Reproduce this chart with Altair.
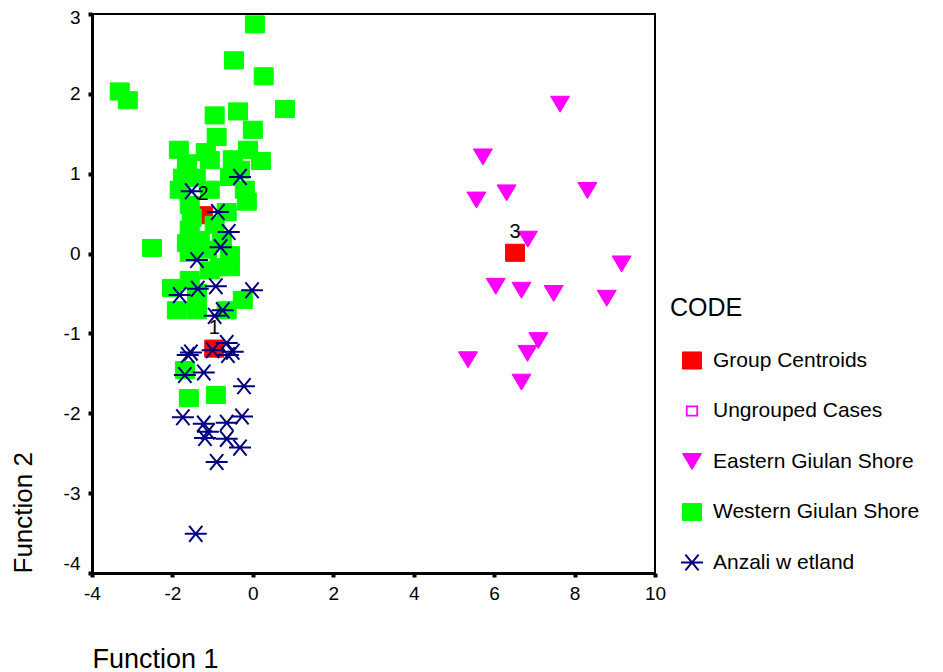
import altair as alt
import pandas as pd

groups = ["Group Centroids", "Ungrouped Cases", "Eastern Giulan Shore",
          "Western Giulan Shore", "Anzali w etland"]

centroid_x = [-0.96, -1.24, 6.52]
centroid_y = [-1.19, 0.48, 0.01]
centroid_labels = ["1", "2", "3"]

eastern_x = [7.64, 5.72, 6.31, 5.56, 8.32, 6.84, 9.17, 6.04, 6.68, 7.48, 8.80, 7.10, 6.83, 5.35, 6.68]
eastern_y = [1.87, 1.21, 0.76, 0.67, 0.79, 0.18, -0.13, -0.41, -0.46, -0.50, -0.56, -1.09, -1.25, -1.33, -1.61]

western_x = [0.05, -0.47, 0.27, -3.31, -3.11, 0.80, -0.37, -0.95, 0.00, -0.90,
             -1.84, -1.17, -0.12, 0.20, -1.07, -0.50, -1.64, -1.74, -1.82, -0.57,
             -0.20, -0.15, -1.57, -0.65, -1.52, -1.57, -2.51, -1.64, -1.32, -0.77,
             -1.57, -1.14, -1.07, -0.57, -0.82, -2.01, -1.39, -0.25, -1.89, -1.39,
             -0.65, -1.69, -1.59, -0.92, -1.42, -1.07, -0.95, -0.32, -0.57, -1.57]
western_y = [2.87, 2.42, 2.22, 2.03, 1.92, 1.81, 1.78, 1.73, 1.55, 1.46,
             1.30, 1.27, 1.30, 1.16, 1.17, 1.18, 1.13, 0.95, 0.80, 0.96,
             0.80, 0.65, 0.61, 0.52, 0.45, 0.30, 0.07, 0.13, 0.17, 0.17,
             0.01, 0.05, -0.21, -0.17, -0.17, -0.43, -0.49, -0.58, -0.71, -0.71,
             -0.71, -1.46, -1.81, -1.77, 0.95, 0.80, 0.36, 1.05, -0.02, -0.33]

anzali_x = [-1.52, -0.32, -0.87, -0.60, -0.80, -1.39, -0.92, -1.37, -1.82, -0.02,
            -0.75, -0.95, -0.65, -1.54, -1.62, -1.00, -0.62, -0.50, -1.69, -1.22,
            -0.22, -1.74, -1.22, -1.12, -1.19, -0.65, -0.27, -0.65, -0.32, -0.90, -1.42]
anzali_y = [0.78, 0.96, 0.52, 0.27, 0.08, -0.08, -0.41, -0.44, -0.52, -0.46,
            -0.71, -0.78, -1.12, -1.24, -1.27, -1.21, -1.27, -1.23, -1.52, -1.49,
            -1.66, -2.05, -2.13, -2.23, -2.31, -2.12, -2.04, -2.32, -2.43, -2.61, -3.51]

x_ticks = [-4, -2, 0, 2, 4, 6, 8, 10]
y_ticks = [-4, -3, -2, -1, 0, 1, 2, 3]

FONT = "Liberation Sans"

rows = []
for xv, yv in zip(centroid_x, centroid_y):
    rows.append({"f1": xv, "f2": yv, "CODE": groups[0]})
for xv, yv in zip(eastern_x, eastern_y):
    rows.append({"f1": xv, "f2": yv, "CODE": groups[2]})
for xv, yv in zip(western_x, western_y):
    rows.append({"f1": xv, "f2": yv, "CODE": groups[3]})
for xv, yv in zip(anzali_x, anzali_y):
    rows.append({"f1": xv, "f2": yv, "CODE": groups[4]})
points_df = pd.DataFrame(rows)
points_df["ord"] = range(len(points_df))

labels_df = pd.DataFrame({"f1": centroid_x, "f2": centroid_y, "lab": centroid_labels})

square = "M-1,-0.9h2v1.8h-2Z"
tri_down = "M-1,-0.84L1,-0.84L0,0.84Z"
asterisk = "M-1,0H1M-0.6,-0.72L0.6,0.72M-0.6,0.72L0.6,-0.72"

x_enc = alt.X("f1:Q", scale=alt.Scale(domain=[-4, 10], nice=False, zero=False),
              axis=alt.Axis(values=x_ticks, title="Function 1", grid=False,
                            labelExpr="datum.value + ''", labelFlush=False,
                            titleX=0, titleY=94, titleAlign="left", titleFontSize=27,
                            titleBaseline="alphabetic", titleAnchor="start"))
y_enc = alt.Y("f2:Q", scale=alt.Scale(domain=[-4, 3], nice=False, zero=False),
              axis=alt.Axis(values=y_ticks, title="Function 2", grid=False,
                            labelExpr="datum.value + ''", labelFlush=False,
                            titleX=-61, titleY=559, titleAlign="left",
                            titleAngle=270, titleBaseline="alphabetic",
                            labelOffset={"condition": {"test": "datum.value == 3", "value": 3},
                                         "value": 0},
                            labelBaseline={"condition": {"test": "datum.value == -4", "value": "bottom"},
                                           "value": "middle"}))

legend = alt.Legend(title="CODE", orient="none", legendX=578, legendY=282,
                    titleFontSize=25, titleFontWeight="normal", titleFont=FONT,
                    titleColor="black", labelFont=FONT, labelFontSize=21,
                    labelColor="black", symbolOffset=10, labelOffset=9,
                    labelLimit=400, clipHeight=25, rowPadding=25.5, titlePadding=27)

dom = groups
points = alt.Chart(points_df).mark_point(opacity=1, filled=False).encode(
    x=x_enc,
    y=y_enc,
    shape=alt.Shape("CODE:N", scale=alt.Scale(domain=dom, range=[square, square, tri_down, square, asterisk]), legend=legend),
    fill=alt.Fill("CODE:N", scale=alt.Scale(domain=dom, range=["#ff0000", "transparent", "#ff00ff", "#00ff00", "transparent"]), legend=legend),
    stroke=alt.Stroke("CODE:N", scale=alt.Scale(domain=dom, range=["#ff0000", "#ff00ff", "#ff00ff", "#00ff00", "#000080"]), legend=legend),
    size=alt.Size("CODE:N", scale=alt.Scale(type="ordinal", domain=dom, range=[361, 110, 361, 361, 484]), legend=legend),
    strokeWidth=alt.StrokeWidth("CODE:N", scale=alt.Scale(type="ordinal", domain=dom, range=[1, 1.8, 1, 1, 2]), legend=legend),
    order=alt.Order("ord:Q"),
)

labels = alt.Chart(labels_df).mark_text(dy=-21, fontSize=20, font=FONT, color="black").encode(
    x=alt.X("f1:Q"), y=alt.Y("f2:Q"), text="lab:N"
)

chart = alt.layer(points, labels).properties(
    width=563, height=559,
    autosize=alt.AutoSizeParams(type="none"),
    padding={"left": 84, "top": 6, "right": 280, "bottom": 100},
).configure_view(
    stroke="black", strokeWidth=2
).configure_axis(
    labelFont=FONT, labelFontSize=19, labelColor="black",
    titleFont=FONT, titleFontSize=26, titleFontWeight="normal", titleColor="black",
    domainColor="black", domainWidth=3, tickColor="black", tickWidth=4, tickSize=4,
    labelPadding=7,
).configure_axisY(labelPadding=8)

chart.save("out.html", embed_options={"renderer": "svg", "actions": False})
